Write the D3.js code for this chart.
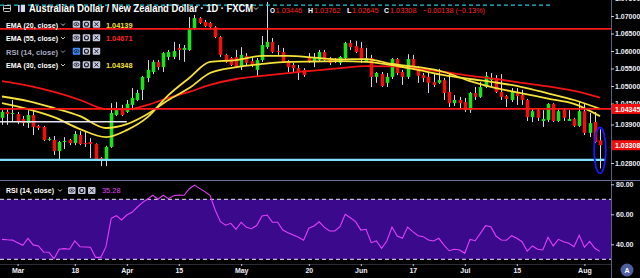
<!DOCTYPE html>
<html><head><meta charset="utf-8">
<script src="https://cdn.jsdelivr.net/npm/d3@7"></script>
<style>html,body{margin:0;padding:0;background:#000;overflow:hidden}svg{display:block}</style>
</head><body>
<svg id="c" width="640" height="278"></svg>
<script>
// ---- data (AUD/NZD daily, Feb 26 – Aug 6) ----
const open = [1.0409,1.0426,1.0420,1.0420,1.0406,1.0394,1.0417,1.0386,1.0383,1.0346,1.0346,1.0314,1.0340,1.0346,1.0337,1.0360,1.0337,1.0340,1.0334,1.0294,1.0289,1.0326,1.0417,1.0437,1.0426,1.0446,1.0460,1.0489,1.0523,1.0540,1.0569,1.0554,1.0583,1.0583,1.0609,1.0603,1.0603,1.0666,1.0694,1.0683,1.0680,1.0668,1.0640,1.0589,1.0580,1.0583,1.0554,1.0586,1.0571,1.0546,1.0574,1.0611,1.0626,1.0600,1.0597,1.0571,1.0560,1.0551,1.0546,1.0583,1.0569,1.0574,1.0597,1.0580,1.0574,1.0566,1.0580,1.0623,1.0614,1.0609,1.0571,1.0580,1.0526,1.0534,1.0509,1.0526,1.0577,1.0540,1.0526,1.0577,1.0554,1.0531,1.0526,1.0511,1.0509,1.0517,1.0483,1.0451,1.0460,1.0454,1.0431,1.0480,1.0469,1.0497,1.0517,1.0523,1.0483,1.0471,1.0460,1.0483,1.0474,1.0460,1.0411,1.0431,1.0400,1.0403,1.0449,1.0400,1.0431,1.0400,1.0406,1.0386,1.0428,1.0366,1.0397,1.03446];
const high = [1.0431,1.0437,1.0460,1.0426,1.0414,1.0431,1.0431,1.0389,1.0386,1.0354,1.0357,1.0343,1.0354,1.0349,1.0371,1.0371,1.0369,1.0351,1.0336,1.0297,1.0329,1.0451,1.0454,1.0446,1.0460,1.0494,1.0489,1.0529,1.0574,1.0574,1.0574,1.0597,1.0603,1.0626,1.0620,1.0617,1.0697,1.0703,1.0697,1.0689,1.0683,1.0671,1.0643,1.0592,1.0583,1.0603,1.0611,1.0594,1.0580,1.0580,1.0643,1.0740,1.0637,1.0617,1.0609,1.0574,1.0566,1.0560,1.0551,1.0594,1.0594,1.0603,1.0603,1.0583,1.0580,1.0586,1.0626,1.0631,1.0629,1.0626,1.0609,1.0589,1.0540,1.0540,1.0537,1.0580,1.0580,1.0546,1.0591,1.0589,1.0557,1.0537,1.0537,1.0537,1.0549,1.0523,1.0537,1.0474,1.0469,1.0466,1.0483,1.0497,1.0511,1.0540,1.0537,1.0531,1.0534,1.0474,1.0494,1.0494,1.0489,1.0463,1.0437,1.0437,1.0431,1.0451,1.0451,1.0437,1.0437,1.0431,1.0409,1.0454,1.0451,1.0423,1.0426,1.03762];
const low = [1.0389,1.0389,1.0397,1.0391,1.0386,1.0380,1.0360,1.0374,1.0343,1.0343,1.0303,1.0289,1.0320,1.0331,1.0331,1.0331,1.0326,1.0294,1.0286,1.0271,1.0271,1.0323,1.0414,1.0414,1.0423,1.0431,1.0457,1.0460,1.0511,1.0534,1.0546,1.0540,1.0574,1.0577,1.0574,1.0569,1.0600,1.0660,1.0677,1.0668,1.0666,1.0637,1.0583,1.0566,1.0557,1.0551,1.0546,1.0560,1.0554,1.0526,1.0569,1.0606,1.0594,1.0589,1.0566,1.0540,1.0540,1.0517,1.0526,1.0566,1.0554,1.0569,1.0569,1.0560,1.0566,1.0560,1.0574,1.0603,1.0594,1.0566,1.0569,1.0497,1.0509,1.0497,1.0497,1.0520,1.0531,1.0503,1.0520,1.0549,1.0509,1.0511,1.0480,1.0497,1.0506,1.0460,1.0440,1.0443,1.0437,1.0426,1.0423,1.0460,1.0466,1.0494,1.0497,1.0480,1.0460,1.0440,1.0454,1.0446,1.0446,1.0400,1.0397,1.0400,1.0383,1.0397,1.0397,1.0397,1.0400,1.0400,1.0383,1.0383,1.0360,1.0354,1.0337,1.02645];
const close = [1.0426,1.0420,1.0423,1.0397,1.0394,1.0417,1.0383,1.0380,1.0346,1.0349,1.0314,1.0340,1.0343,1.0337,1.0363,1.0334,1.0334,1.0334,1.0289,1.0289,1.0326,1.0423,1.0437,1.0417,1.0449,1.0466,1.0480,1.0526,1.0546,1.0569,1.0554,1.0594,1.0597,1.0600,1.0603,1.0609,1.0666,1.0694,1.0680,1.0671,1.0668,1.0640,1.0589,1.0569,1.0560,1.0554,1.0589,1.0566,1.0560,1.0574,1.0617,1.0626,1.0597,1.0599,1.0569,1.0554,1.0551,1.0540,1.0531,1.0569,1.0580,1.0597,1.0574,1.0566,1.0569,1.0583,1.0623,1.0611,1.0597,1.0574,1.0580,1.0526,1.0537,1.0500,1.0526,1.0577,1.0537,1.0526,1.0577,1.0551,1.0529,1.0523,1.0509,1.0503,1.0517,1.0480,1.0451,1.0460,1.0451,1.0431,1.0480,1.0469,1.0497,1.0529,1.0520,1.0483,1.0469,1.0463,1.0483,1.0471,1.0460,1.0411,1.0428,1.0409,1.0406,1.0449,1.0400,1.0428,1.0409,1.0406,1.0386,1.0428,1.0366,1.0394,1.0340,1.03308];

// indicator readings (sampled at bar indices)
const emaIdx = [0,5,10,15,20,24,28,32,36,40,45,50,55,60,65,70,75,80,85,90,95,100,105,110,115];
const ema20 = [1.0451,1.0434,1.0411,1.0377,1.0354,1.0374,1.0411,1.0474,1.0523,1.0569,1.0574,1.0586,1.0586,1.0581,1.0576,1.0577,1.0563,1.0554,1.0540,1.0514,1.0494,1.0479,1.0464,1.0449,1.04139];
const ema30 = [1.0470,1.0457,1.0437,1.0414,1.0380,1.0391,1.0420,1.0460,1.0494,1.0537,1.0554,1.0563,1.0569,1.0570,1.0571,1.0569,1.0560,1.0546,1.0531,1.0520,1.0510,1.0497,1.0479,1.0460,1.04348];
const ema55 = [1.0514,1.0501,1.0483,1.0460,1.0434,1.0433,1.0446,1.0466,1.0483,1.0503,1.0520,1.0529,1.0537,1.0544,1.0551,1.0557,1.0556,1.0549,1.0540,1.0529,1.0520,1.0509,1.0499,1.0486,1.04671];
const rsi = [43.3,43,42.8,41.1,39.3,44,39.6,38.9,34.9,34.7,30.4,36.7,37.1,36.7,42.2,38.4,38.2,38,31.3,31.3,38.4,57.3,59.1,56.2,59.5,61.3,64.7,67.8,70.2,72.7,70,72.7,70.4,72.4,72.9,72.7,76.9,79.5,77.3,75.1,72.7,62.9,55.1,52.7,54,50,54.7,51.3,50.4,52.7,58.9,59.5,54.7,54.7,49.5,47.7,46.2,44.7,42.7,50.7,52.2,55,51.3,48.9,48.9,51.7,60,57.7,55.1,49.5,50,41.1,42.2,37.3,42.2,51.5,45.5,44,51.5,48.4,45.7,45.1,42.9,42.2,44,39.5,35.7,36.7,36.2,34,43.3,42.4,47.3,52.4,51.7,45.5,42.9,42.7,45.7,44,41.7,35.5,38.9,36.7,36.2,44.7,38.9,43.3,41.7,40.7,38.4,46,38,42,37.3,35.28];

// axis labels
const priceTicks = [1.075,1.07,1.065,1.06,1.055,1.05,1.045,1.039,1.028];
const rsiTicks = [80,60,40];
const timeTickIdx = [3,14,24,34,46,59,69,79,89,99,112];
const timeTickText = ["Mar","18","Apr","15","May","20","Jun","17","Jul","15","Aug"];

// drawn levels
const resistTop = 1.0663, levelMid = 1.04345, supportLow = 1.0289, whiteLevel = 1.0398, dashedTop = 1.0731;
const lastClose = 1.03308;

// ---- drawing ----
const svg = d3.select("#c");
const W = 640, H = 278, AX = 611;
const FONT = "'Liberation Sans', Arial, sans-serif";
const x = d3.scaleLinear().domain([0,115]).range([2,600]);
const y = d3.scaleLinear().domain([1.07,1.045]).range([16,103.5]);
const yr = d3.scaleLinear().domain([80,40]).range([184.3,244.3]);

svg.append("rect").attr("width",W).attr("height",H).attr("fill","#000");
const defs = svg.append("defs");
defs.append("clipPath").attr("id","mainClip").append("rect").attr("x",0).attr("y",0).attr("width",AX).attr("height",180);
defs.append("clipPath").attr("id","rsiClip").append("rect").attr("x",0).attr("y",181).attr("width",AX).attr("height",83);

// RSI pane band
const rsiG = svg.append("g").attr("clip-path","url(#rsiClip)");
rsiG.append("rect").attr("x",0).attr("width",AX).attr("y",yr(70)).attr("height",yr(30)-yr(70)).attr("fill","#3b0a8c");
[70,30].forEach(v=>rsiG.append("line").attr("x1",0).attr("x2",AX).attr("y1",yr(v)).attr("y2",yr(v))
  .attr("stroke","#e8e8f0").attr("stroke-width",1).attr("stroke-dasharray","4,3"));
rsiG.append("path").datum(rsi).attr("fill","none").attr("stroke","#e040fb").attr("stroke-width",1.1)
  .attr("d",d3.line().x((d,i)=>x(i)).y(d=>yr(d)));

// main pane
const main = svg.append("g").attr("clip-path","url(#mainClip)");
const bars = d3.range(open.length);
const bw = 3.6;
main.append("g").selectAll("line").data(bars).join("line")
  .attr("x1",i=>Math.round(x(i))+0.5).attr("x2",i=>Math.round(x(i))+0.5)
  .attr("y1",i=>y(high[i])).attr("y2",i=>y(low[i]))
  .attr("stroke","#d4d6e6").attr("stroke-width",1);
main.append("g").selectAll("rect").data(bars).join("rect")
  .attr("x",i=>Math.round(x(i))+0.5-bw/2).attr("width",bw)
  .attr("y",i=>y(Math.max(open[i],close[i])))
  .attr("height",i=>Math.max(1,Math.abs(y(open[i])-y(close[i]))))
  .attr("fill",i=>close[i]>=open[i]?"#1ee01e":"#f01010");

const emaLine = d3.line().x((d,k)=>x(emaIdx[k])).y(d=>y(d)).curve(d3.curveMonotoneX);
main.append("path").datum(ema55).attr("fill","none").attr("stroke","#f21414").attr("stroke-width",1.8).attr("d",emaLine);
main.append("path").datum(ema30).attr("fill","none").attr("stroke","#f7e23a").attr("stroke-width",1.8).attr("d",emaLine);
main.append("path").datum(ema20).attr("fill","none").attr("stroke","#f7e23a").attr("stroke-width",1.8).attr("d",emaLine);

// drawn levels
const hl = (v,x0,x1,col,w,dash)=>{const l=main.append("line").attr("x1",x0).attr("x2",x1).attr("y1",y(v)).attr("y2",y(v))
  .attr("stroke",col).attr("stroke-width",w); if(dash) l.attr("stroke-dasharray",dash);};
hl(resistTop,0,AX,"#ff1a1a",1.8);
hl(levelMid,0,AX,"#ff1a1a",1.8);
hl(supportLow,0,x(116),"#7fe0ff",2.2);
hl(whiteLevel,0,x(24),"#e6e6ee",1.6);
hl(dashedTop,0,x(105.8),"#26c6da",1.4,"4,3");

// ellipse around the last bar
main.append("ellipse").attr("cx",x(115)).attr("cy",(y(high[115])+y(low[115]))/2+1.5)
  .attr("rx",5.8).attr("ry",23).attr("fill","none").attr("stroke","#1a1aff").attr("stroke-width",1.8);

// separators & axis lines
svg.append("line").attr("x1",0).attr("x2",W).attr("y1",180.5).attr("y2",180.5).attr("stroke","#6e7090").attr("stroke-width",1);
svg.append("line").attr("x1",0).attr("x2",AX).attr("y1",264.5).attr("y2",264.5).attr("stroke","#2e2e38").attr("stroke-width",1);
svg.append("line").attr("x1",AX+0.5).attr("x2",AX+0.5).attr("y1",0).attr("y2",H).attr("stroke","#5d6080").attr("stroke-width",1);

// price axis
const pa = svg.append("g").attr("transform",`translate(${AX},0)`)
  .call(d3.axisRight(y).tickValues(priceTicks).tickFormat(d3.format(".5f")).tickSize(3).tickPadding(1));
const ra = svg.append("g").attr("transform",`translate(${AX},0)`)
  .call(d3.axisRight(yr).tickValues(rsiTicks).tickFormat(d3.format(".2f")).tickSize(3).tickPadding(2));
const ta = svg.append("g").attr("transform","translate(0,264)")
  .call(d3.axisBottom(x).tickValues(timeTickIdx).tickFormat((d,i)=>timeTickText[i]).tickSize(2).tickPadding(2));
[pa,ra,ta].forEach(g=>{
  g.select(".domain").remove();
  g.selectAll(".tick line").attr("stroke","#c8cade");
  g.selectAll(".tick text").attr("fill","#eceef6").attr("font-family",FONT).attr("font-size",7).attr("font-weight","bold");
});

// price labels on axis
[[levelMid,"1.04345"],[lastClose,"1.03308"]].forEach(([v,t])=>{
  svg.append("rect").attr("x",AX+1).attr("y",y(v)-5).attr("width",W-AX-1).attr("height",10).attr("fill","#f01010");
  svg.append("text").attr("x",AX+4).attr("y",y(v)+2.6).attr("fill","#fff").attr("font-family",FONT)
    .attr("font-size",7).attr("font-weight","bold").text(t);
});

// "A" button
svg.append("circle").attr("cx",627).attr("cy",270).attr("r",6.5).attr("fill","#4f5ea0");
svg.append("text").attr("x",627).attr("y",272.6).attr("text-anchor","middle").attr("fill","#fff")
  .attr("font-family",FONT).attr("font-size",7).attr("font-weight","bold").text("A");

// ---- legends ----
const txt = (x0,y0,s,fill,size,len,weight)=>{const t=svg.append("text").attr("x",x0).attr("y",y0).attr("fill",fill)
  .attr("font-family",FONT).attr("font-size",size).attr("font-weight",weight||"bold").text(s);
  if(len) t.attr("textLength",len).attr("lengthAdjust","spacingAndGlyphs"); return t;};
const chevron = (x0,y0,col)=>svg.append("path").attr("d",`M${x0},${y0} l2,2 l2,-2`).attr("fill","none").attr("stroke",col||"#ddd").attr("stroke-width",0.9);
const icons = (x0,y0,hi)=>{
  for(let k=0;k<3;k++){
    const bx=x0+k*10;
    svg.append("rect").attr("x",bx).attr("y",y0).attr("width",7.5).attr("height",7).attr("rx",1)
      .attr("fill",(hi&&k===0)?"#3d8cff":"#c6c9dc");
    const cx=bx+3.75, cy=y0+3.5, g="#1a1a24";
    if(k===0){svg.append("ellipse").attr("cx",cx).attr("cy",cy).attr("rx",2.6).attr("ry",1.6).attr("fill","none").attr("stroke",g).attr("stroke-width",0.8);
      svg.append("circle").attr("cx",cx).attr("cy",cy).attr("r",0.8).attr("fill",g);}
    else if(k===1){svg.append("circle").attr("cx",cx).attr("cy",cy).attr("r",2).attr("fill","none").attr("stroke",g).attr("stroke-width",1.1);}
    else {svg.append("path").attr("d",`M${cx-2},${cy-2}L${cx+2},${cy+2}M${cx+2},${cy-2}L${cx-2},${cy+2}`).attr("stroke",g).attr("stroke-width",1);}
  }
};

// title row
svg.append("rect").attr("x",3.5).attr("y",5.5).attr("width",7).attr("height",6).attr("rx",1).attr("fill","none").attr("stroke","#ddd").attr("stroke-width",0.9);
svg.append("line").attr("x1",3.5).attr("x2",10.5).attr("y1",8.5).attr("y2",8.5).attr("stroke","#ddd").attr("stroke-width",0.9);
svg.append("rect").attr("x",18).attr("y",5).attr("width",7).attr("height",7).attr("fill","#d8d8e4");
svg.append("rect").attr("x",19.5).attr("y",5).attr("width",1.5).attr("height",7).attr("fill","#2c2c60");
txt(29,12.2,"Australian Dollar / New Zealand Dollar · 1D · FXCM","#ffffff",10,224);
chevron(254,7.5,"#eee");
txt(270,12.6,"O","#ffffff",7.5,5); txt(275.6,12.6,"1.03446","#ff2020",7.5,26.5,"normal");
txt(308,12.6,"H","#ffffff",7.5,5); txt(314,12.6,"1.03762","#ff2020",7.5,26.5,"normal");
txt(347,12.6,"L","#ffffff",7.5,4.5); txt(352,12.6,"1.02645","#ff2020",7.5,26.5,"normal");
txt(384,12.6,"C","#ffffff",7.5,5); txt(390,12.6,"1.03308","#ff2020",7.5,26.5,"normal");
txt(423,12.6,"−0.00138 (−0.13%)","#ff2020",7.5,62,"normal");

const rows = [
  {label:"EMA (20, close)", val:"1.04139", col:"#f7e23a", yb:27.5, dim:false},
  {label:"EMA (55, close)", val:"1.04671", col:"#ff2020", yb:41, dim:false},
  {label:"RSI (14, close)", val:null, col:null, yb:54.5, dim:true},
  {label:"EMA (30, close)", val:"1.04348", col:"#f7e23a", yb:68, dim:false}
];
rows.forEach(r=>{
  txt(6,r.yb,r.label,r.dim?"#a9abc0":"#ffffff",7.5,52);
  chevron(61,r.yb-4,r.dim?"#a9abc0":"#ddd");
  icons(72.7,r.yb-6.8,r.dim);
  if(r.val) txt(106,r.yb,r.val,r.col,7.5,26.5);
});
// RSI pane legend
txt(6,193.3,"RSI (14, close)","#ffffff",7.5,48);
chevron(58,189.3,"#ddd");
icons(68,187,false);
txt(102,193.3,"35.28","#e040fb",7.5,18.5,"normal");
</script>
</body></html>
